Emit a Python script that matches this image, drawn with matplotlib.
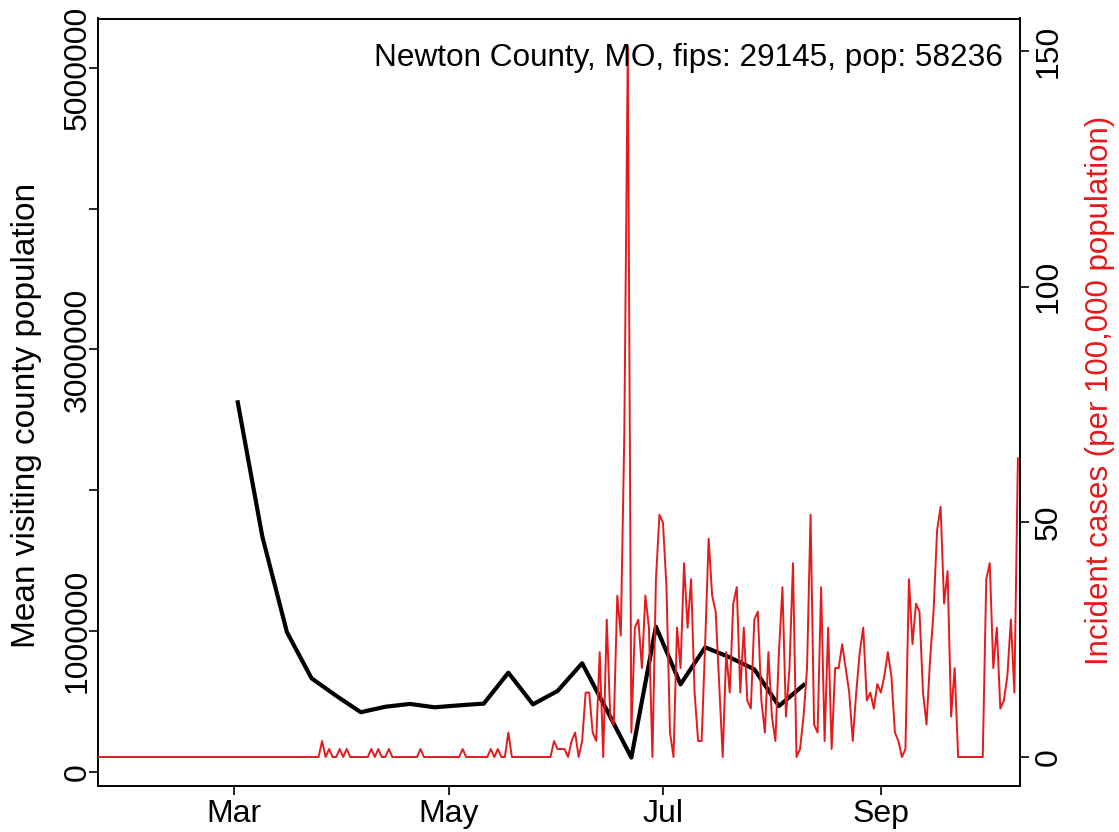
import numpy as np
import matplotlib
matplotlib.use("Agg")
import matplotlib.pyplot as plt
import matplotlib.dates as mdates

plt.rcParams['font.family'] = ['Liberation Sans', 'DejaVu Sans']

# ---------------- data ----------------
title_text = "Newton County, MO, fips: 29145, pop: 58236"
left_label = "Mean visiting county population"
right_label = "Incident cases (per 100,000 population)"

mobility_dates = ['2020-03-02', '2020-03-09', '2020-03-16', '2020-03-23', '2020-03-30',
                  '2020-04-06', '2020-04-13', '2020-04-20', '2020-04-27', '2020-05-04',
                  '2020-05-11', '2020-05-18', '2020-05-25', '2020-06-01', '2020-06-08',
                  '2020-06-15', '2020-06-22', '2020-06-29', '2020-07-06', '2020-07-13',
                  '2020-07-20', '2020-07-27', '2020-08-03', '2020-08-10']
mobility_values = [2624000, 1670000, 991000, 664000, 540000,
                   423000, 462000, 482000, 458000, 472000,
                   484000, 704000, 479000, 574000, 771000,
                   439000, 101000, 1031000, 621000, 884000,
                   813000, 728000, 467000, 616000]

case_start = '2020-01-22'
case_end = '2020-10-10'
incidence = [
    # Jan 22 - Mar 25
    0, 0, 0, 0, 0, 0, 0, 0, 0, 0, 0, 0, 0, 0, 0, 0,
    0, 0, 0, 0, 0, 0, 0, 0, 0, 0, 0, 0, 0, 0, 0, 0,
    0, 0, 0, 0, 0, 0, 0, 0, 0, 0, 0, 0, 0, 0, 0, 0,
    0, 0, 0, 0, 0, 0, 0, 0, 0, 0, 0, 0, 0, 0, 0, 0,
    # Mar 26 - May 30
    3.4, 0, 1.7, 0, 0, 1.7, 0, 1.7, 0, 0, 0, 0, 0, 0, 1.7, 0,
    1.7, 0, 0, 1.7, 0, 0, 0, 0, 0, 0, 0, 0, 1.7, 0, 0, 0,
    0, 0, 0, 0, 0, 0, 0, 0, 1.7, 0, 0, 0, 0, 0, 0, 0,
    1.7, 0, 1.7, 0, 0, 5.2, 0, 0, 0, 0, 0, 0, 0, 0, 0, 0,
    0, 0,
    # May 31 - Jun 30
    3.4, 1.7, 1.7, 1.7, 0, 3.4, 5.2, 0, 3.4, 13.7, 13.7, 5.2, 3.4, 22.3, 0, 29.2,
    8.6, 6.9, 34.3, 25.8, 68.7, 151.1, 5.2, 27.5, 29.2, 18.9, 34.3, 27.5, 0, 37.8, 51.5,
    # Jul 1 - Jul 31
    49.8, 36.1, 5.2, 0, 27.5, 18.9, 41.2, 27.5, 37.8, 13.7, 3.4, 3.4, 24.0, 46.4, 34.3, 30.9,
    15.5, 0, 22.3, 13.7, 32.6, 36.1, 13.7, 27.5, 12.0, 10.3, 29.2, 30.9, 12.0, 5.2, 22.3,
    # Aug 1 - Aug 31
    8.6, 3.4, 22.3, 36.1, 8.6, 18.9, 41.2, 0, 1.7, 8.6, 18.9, 51.5, 6.9, 5.2, 36.1, 3.4,
    27.5, 1.7, 18.9, 18.9, 24.0, 18.9, 13.7, 3.4, 13.7, 22.3, 27.5, 12.0, 13.7, 10.3, 15.5,
    # Sep 1 - Sep 30
    13.7, 17.2, 22.3, 17.2, 5.2, 3.4, 0, 1.7, 37.8, 24.0, 32.6, 30.9, 13.7, 6.9, 20.6, 30.9,
    48.1, 53.2, 32.6, 39.5, 8.6, 18.9, 0, 0, 0, 0, 0, 0, 0, 0,
    # Oct 1 - Oct 10
    37.8, 41.2, 18.9, 27.5, 10.3, 12.0, 17.2, 29.2, 13.7, 63.5,
]

left_ticks = [0, 1000000, 2000000, 3000000, 4000000, 5000000]
left_tick_labels = ['0', '1000000', '', '3000000', '', '5000000']
right_ticks = [0, 50, 100, 150]
right_tick_labels = ['0', '50', '100', '150']
month_ticks = ['2020-03-01', '2020-05-01', '2020-07-01', '2020-09-01']
month_labels = ['Mar', 'May', 'Jul', 'Sep']

# ---------------- figure ----------------
W, H = 1119, 832
fig = plt.figure(figsize=(W / 100, H / 100), dpi=100)
ax_left, ax_right, ax_top, ax_bottom = 97.9, 1020.0, 18.5, 786.0
ax = fig.add_axes([ax_left / W, 1 - ax_bottom / H, (ax_right - ax_left) / W, (ax_bottom - ax_top) / H])

red = '#E41A1C'
fs = 23

mob_x = mdates.date2num(np.array(mobility_dates, dtype='datetime64[D]'))
case_x = mdates.date2num(np.arange(np.datetime64(case_start), np.datetime64(case_end) + 1,
                                   np.timedelta64(1, 'D')))

ax.plot(mob_x, mobility_values, color='black', lw=3.0, solid_joinstyle='round', zorder=2)
ax.set_ylim(-100900, 5350000)
mar1 = mdates.date2num(np.datetime64('2020-03-01'))
ax.set_xlim(mar1 - 38.8, mar1 + 223.6)

ax.set_yticks(left_ticks)
ax.set_yticklabels(left_tick_labels)
ax.set_xticks(mdates.date2num(np.array(month_ticks, dtype='datetime64[D]')))
ax.set_xticklabels(month_labels)

ax2 = ax.twinx()
ax2.plot(case_x, incidence, color=red, lw=1.4, zorder=3)
ax2.set_ylim(-6.16, 156.96)
ax2.set_yticks(right_ticks)
ax2.set_yticklabels(right_tick_labels)

for a in (ax, ax2):
    for s in a.spines.values():
        s.set_linewidth(1.2)
        s.set_color('black')
    a.tick_params(length=6.5, width=1.2, labelsize=fs, color='black')

ax.tick_params(axis='x', pad=3)
ax.tick_params(axis='y', pad=2)
ax2.tick_params(axis='y', pad=20)

for lab in ax.get_yticklabels():
    lab.set_rotation(90)
    lab.set_rotation_mode('anchor')
    lab.set_ha('center')
    lab.set_va('baseline')
for lab in ax2.get_yticklabels():
    lab.set_rotation(90)
    lab.set_rotation_mode('anchor')
    lab.set_ha('center')
    lab.set_va('baseline')

fig.text(1003 / W, 1 - 58 / H, title_text, ha='right', va='center', fontsize=22.7)
fig.text(27 / W, 1 - 415 / H, left_label, rotation=90, ha='center', va='center', fontsize=24)
fig.text(1100 / W, 1 - 390 / H, right_label, rotation=90, ha='center', va='center',
         fontsize=22.5, color=red)

fig.savefig('out.png', dpi=100)
